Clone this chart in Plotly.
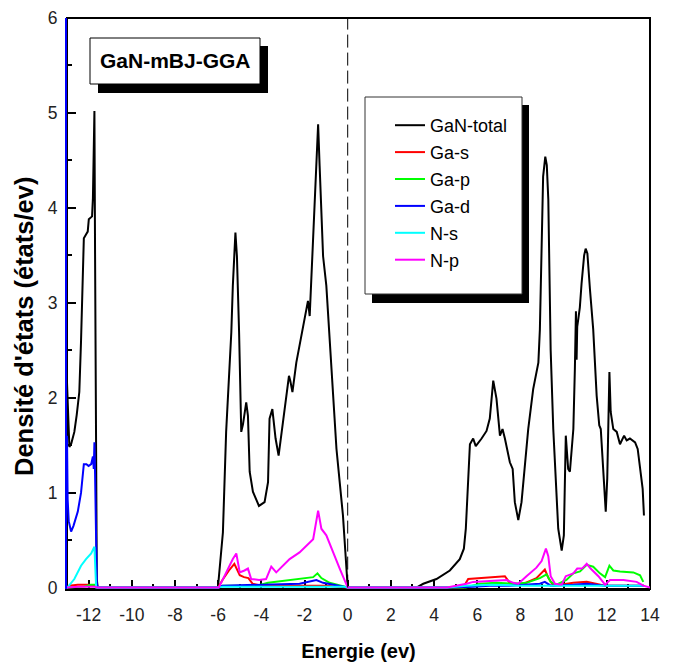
import plotly.graph_objects as go

# ---------------- data: density of states of GaN (mBJ-GGA) ----------------
total_e = [-13.0, -12.95, -12.89, -12.8, -12.66, -12.55, -12.43, -12.35, -12.27, -12.22,
           -12.12, -12.04, -11.99, -11.84, -11.80, -11.77, -11.75, -11.73, -11.70, -11.65,
           -11.62, -11.58, -6.01, -5.78, -5.63, -5.39, -5.32, -5.20, -5.13, -5.03,
           -4.93, -4.85, -4.70, -4.62, -4.54, -4.39, -4.11, -3.85, -3.69, -3.62,
           -3.49, -3.34, -3.20, -3.00, -2.72, -2.66, -2.56, -2.38, -2.23, -1.91,
           -1.84, -1.76, -1.60, -1.45, -1.37, -1.30, -1.14, -0.99, -0.76, -0.52,
           -0.22, 0.0, 3.18, 3.50, 4.11, 4.73, 5.19, 5.38, 5.47, 5.58,
           5.66, 5.81, 5.93, 6.20, 6.43, 6.58, 6.74, 6.89, 7.05, 7.17,
           7.28, 7.51, 7.64, 7.74, 7.90, 8.05, 8.36, 8.59, 8.83, 8.90,
           9.01, 9.05, 9.15, 9.22, 9.29, 9.34, 9.40, 9.52, 9.75, 9.91,
           10.01, 10.10, 10.21, 10.29, 10.45, 10.52, 10.57, 10.60, 10.63, 10.68,
           10.75, 10.83, 10.95, 11.02, 11.10, 11.22, 11.30, 11.37, 11.53, 11.65,
           11.72, 11.84, 11.95, 12.02, 12.12, 12.18, 12.30, 12.46, 12.61, 12.80,
           12.92, 13.07, 13.31, 13.43, 13.54, 13.66, 13.72]
total_dos = [2.16, 1.80, 1.48, 1.52, 1.64, 1.82, 2.06, 2.60, 3.20, 3.68,
             3.72, 3.75, 3.88, 3.91, 4.10, 4.40, 4.70, 5.02, 3.51, 1.99,
             0.09, 0.0, 0.0, 0.58, 1.64, 2.69, 3.18, 3.74, 3.49, 2.69,
             1.64, 1.72, 1.95, 1.81, 1.22, 1.01, 0.86, 0.90, 1.11, 1.78,
             1.88, 1.57, 1.39, 1.74, 2.23, 2.18, 2.06, 2.37, 2.55, 2.97,
             3.02, 2.86, 3.74, 4.44, 4.88, 4.44, 3.49, 3.18, 2.34, 1.46,
             0.76, 0.0, 0.0, 0.04, 0.09, 0.18, 0.30, 0.41, 0.62, 1.15,
             1.51, 1.57, 1.49, 1.57, 1.65, 1.78, 2.18, 1.99, 1.60, 1.67,
             1.57, 1.32, 1.25, 0.90, 0.71, 0.90, 1.67, 2.09, 2.37, 2.72,
             3.74, 4.33, 4.54, 4.45, 4.09, 3.39, 2.50, 1.67, 0.62, 0.39,
             0.55, 1.60, 1.25, 1.22, 1.67, 2.30, 2.91, 2.40, 2.75, 2.83,
             2.95, 3.20, 3.50, 3.57, 3.52, 3.14, 2.90, 2.72, 2.02, 1.71,
             1.67, 1.25, 0.80, 1.15, 2.27, 1.85, 1.67, 1.64, 1.51, 1.60,
             1.55, 1.57, 1.53, 1.46, 1.25, 1.04, 0.76]

ga_s_e = [-13.0, -12.9, -12.5, -12.0, -11.7, -11.6, -6.0, -5.8, -5.5, -5.25,
          -5.0, -4.8, -4.6, -4.4, -4.0, -3.0, -2.0, -1.0, 0.0, 5.35,
          5.58, 6.12, 6.58, 7.28, 7.50, 8.05, 8.74, 9.13, 9.30, 9.52,
          10.45, 11.07, 11.92, 13.0, 13.72]
ga_s_dos = [0.0, 0.02, 0.03, 0.03, 0.02, 0.0, 0.0, 0.08, 0.18, 0.25,
            0.13, 0.11, 0.10, 0.04, 0.02, 0.02, 0.02, 0.02, 0.0, 0.0,
            0.09, 0.10, 0.11, 0.12, 0.05, 0.03, 0.10, 0.19, 0.10, 0.02,
            0.05, 0.06, 0.02, 0.02, 0.02]

ga_p_e = [-13.0, -12.2, -11.9, -11.7, -11.6, -6.0, -5.8, -4.2, -3.69, -3.0,
          -2.23, -1.6, -1.4, -1.22, -0.84, 0.0, 5.47, 6.12, 6.89, 7.67,
          8.28, 8.90, 9.21, 9.40, 9.67, 10.13, 10.45, 10.76, 11.07, 11.37,
          11.68, 11.92, 12.12, 12.30, 12.61, 13.23, 13.54, 13.69]
ga_p_dos = [0.0, 0.01, 0.03, 0.03, 0.0, 0.0, 0.02, 0.02, 0.05, 0.07,
            0.09, 0.11, 0.15, 0.10, 0.05, 0.0, 0.0, 0.04, 0.05, 0.04,
            0.05, 0.10, 0.14, 0.06, 0.03, 0.08, 0.15, 0.17, 0.24, 0.22,
            0.15, 0.11, 0.23, 0.18, 0.17, 0.16, 0.13, 0.06]

ga_d_e = [-13.0, -12.97, -12.92, -12.85, -12.81, -12.7, -12.6, -12.5, -12.35, -12.25,
          -12.22, -12.1, -12.0, -11.88, -11.8, -11.76, -11.73, -11.70, -11.65, -11.62,
          -11.58, -6.0, -5.8, -2.23, -1.45, -1.14, 0.0, 4.6, 5.81, 6.58,
          7.5, 8.9, 9.13, 9.4, 10.45, 11.07, 11.9, 13.72]
ga_d_dos = [1.60, 0.93, 0.70, 0.60, 0.59, 0.65, 0.72, 0.80, 1.00, 1.22,
            1.30, 1.30, 1.28, 1.30, 1.38, 1.25, 1.53, 1.20, 0.60, 0.05,
            0.0, 0.0, 0.02, 0.04, 0.08, 0.05, 0.0, 0.0, 0.01, 0.02,
            0.02, 0.04, 0.06, 0.02, 0.03, 0.04, 0.02, 0.02]

n_s_e = [-13.0, -12.98, -12.66, -12.35, -12.12, -11.88, -11.73, -11.65, -11.6, -6.0,
         -5.8, -0.2, 0.0, 4.6, 5.5, 6.7, 8.0, 10.0, 12.0, 13.72]
n_s_dos = [0.0, 0.0, 0.09, 0.23, 0.30, 0.36, 0.43, 0.0, 0.0, 0.0,
           0.01, 0.01, 0.0, 0.0, 0.02, 0.03, 0.02, 0.02, 0.02, 0.02]

n_p_e = [-13.0, -12.5, -11.7, -11.6, -5.97, -5.63, -5.32, -5.16, -5.0, -4.78,
         -4.62, -4.47, -4.1, -3.78, -3.54, -3.31, -3.0, -2.69, -2.23, -1.84,
         -1.6, -1.37, -1.22, -0.99, -0.68, -0.37, 0.0, 4.6, 5.5, 5.81,
         6.58, 7.36, 7.67, 7.90, 8.28, 8.74, 8.98, 9.18, 9.29, 9.40,
         9.60, 9.91, 10.10, 10.29, 10.45, 10.63, 10.85, 11.07, 11.25, 11.61,
         11.92, 12.15, 12.77, 13.38, 13.69, 14.0]
n_p_dos = [0.0, 0.01, 0.01, 0.0, 0.0, 0.16, 0.30, 0.36, 0.16, 0.18,
           0.20, 0.09, 0.08, 0.09, 0.22, 0.16, 0.23, 0.30, 0.37, 0.46,
           0.51, 0.81, 0.62, 0.55, 0.37, 0.20, 0.0, 0.0, 0.04, 0.06,
           0.07, 0.08, 0.05, 0.04, 0.12, 0.21, 0.28, 0.41, 0.33, 0.12,
           0.04, 0.03, 0.12, 0.14, 0.15, 0.20, 0.20, 0.25, 0.20, 0.12,
           0.03, 0.08, 0.08, 0.06, 0.02, 0.0]

series = [
    ("GaN-total", total_e, total_dos, "#000000"),
    ("Ga-s", ga_s_e, ga_s_dos, "#FF0000"),
    ("Ga-p", ga_p_e, ga_p_dos, "#00FF00"),
    ("Ga-d", ga_d_e, ga_d_dos, "#0000FF"),
    ("N-s", n_s_e, n_s_dos, "#00FFFF"),
    ("N-p", n_p_e, n_p_dos, "#FF00FF"),
]

x_ticks = list(range(-12, 15, 2))
y_ticks = list(range(0, 7))

# ---------------- figure ----------------
W, H = 676, 666
ML, MR, MT, MB = 67, 26, 18, 77
PW, PH = W - ML - MR, H - MT - MB

def px(xp):
    return (xp - ML) / PW

def py(yp):
    return (H - MB - yp) / PH

ARIAL = "Arial, Liberation Sans, sans-serif"

fig = go.Figure()
for name, xs, ys, color in series:
    fig.add_trace(go.Scatter(x=xs, y=ys, mode="lines", name=name, legendgroup=name,
                             line=dict(color=color, width=2)))

shapes = []
# plot frame (top and right edges)
shapes.append(dict(type="rect", xref="paper", yref="paper", x0=0, y0=0, x1=1, y1=1,
                   line=dict(color="black", width=2), layer="below"))
# Fermi level
shapes.append(dict(type="line", xref="x", yref="y", x0=0, x1=0, y0=0, y1=6,
                   line=dict(color="black", width=1, dash="13px,5px")))
# label box with drop shadow
shapes.append(dict(type="rect", xref="paper", yref="paper",
                   x0=px(98), x1=px(268), y0=py(93), y1=py(46),
                   fillcolor="black", line=dict(width=0), layer="above"))
shapes.append(dict(type="rect", xref="paper", yref="paper",
                   x0=px(90), x1=px(260), y0=py(84), y1=py(38),
                   fillcolor="white", line=dict(color="black", width=1), layer="above"))
# legend frame with drop shadow
shapes.append(dict(type="rect", xref="paper", yref="paper",
                   x0=px(372), x1=px(529), y0=py(303), y1=py(105),
                   fillcolor="black", line=dict(width=0), layer="above"))
shapes.append(dict(type="rect", xref="paper", yref="paper",
                   x0=px(365), x1=px(522), y0=py(294), y1=py(97),
                   fillcolor="white", line=dict(color="#333333", width=1), layer="above"))

annotations = [
    dict(text="<b>GaN-mBJ-GGA</b>", xref="paper", yref="paper", x=px(175), y=py(61),
         xanchor="center", yanchor="middle", showarrow=False,
         font=dict(family=ARIAL, size=21, color="black")),
    dict(text="<b>Densité d'états (états/ev)</b>", xref="paper", yref="paper",
         x=px(24), y=py(327), xanchor="center", yanchor="middle", textangle=-90,
         showarrow=False, font=dict(family=ARIAL, size=25.5, color="black")),
]

fig.update_layout(
    template="none",
    width=W, height=H,
    margin=dict(l=ML, r=MR, t=MT, b=MB, pad=0, autoexpand=False),
    paper_bgcolor="white", plot_bgcolor="white",
    showlegend=True,
    legend=dict(x=px(390), y=py(107), xanchor="left", yanchor="top",
                bgcolor="rgba(0,0,0,0)", borderwidth=0,
                font=dict(family=ARIAL, size=18, color="black"),
                tracegroupgap=0.5),
    shapes=shapes,
    annotations=annotations,
    xaxis=dict(range=[-13, 14], tickmode="array", tickvals=x_ticks,
               ticktext=[str(v) for v in x_ticks], automargin=False,
               ticks="inside", ticklen=9, tickwidth=2, tickcolor="black",
               minor=dict(dtick=1, tick0=0, ticks="inside", ticklen=5, tickwidth=2,
                          tickcolor="black"),
               showline=True, linecolor="black", linewidth=2, mirror=False,
               showgrid=False, zeroline=False, layer="below traces",
               tickfont=dict(family=ARIAL, size=17.5, color="#222222"),
               ticklabelstandoff=9,
               title=dict(text="<b>Energie (ev)</b>", standoff=20,
                          font=dict(family=ARIAL, size=20, color="black"))),
    yaxis=dict(range=[-0.015, 6], tickmode="array", tickvals=y_ticks,
               ticktext=[str(v) for v in y_ticks], automargin=False,
               ticks="inside", ticklen=9, tickwidth=2, tickcolor="black",
               minor=dict(dtick=0.5, tick0=0, ticks="inside", ticklen=5, tickwidth=2,
                          tickcolor="black"),
               showline=True, linecolor="#0000FF", linewidth=2, mirror=False,
               showgrid=False, zeroline=False, layer="below traces",
               tickfont=dict(family=ARIAL, size=17.5, color="#222222"),
               ticklabelstandoff=4),
)

fig.write_html("out.html")
